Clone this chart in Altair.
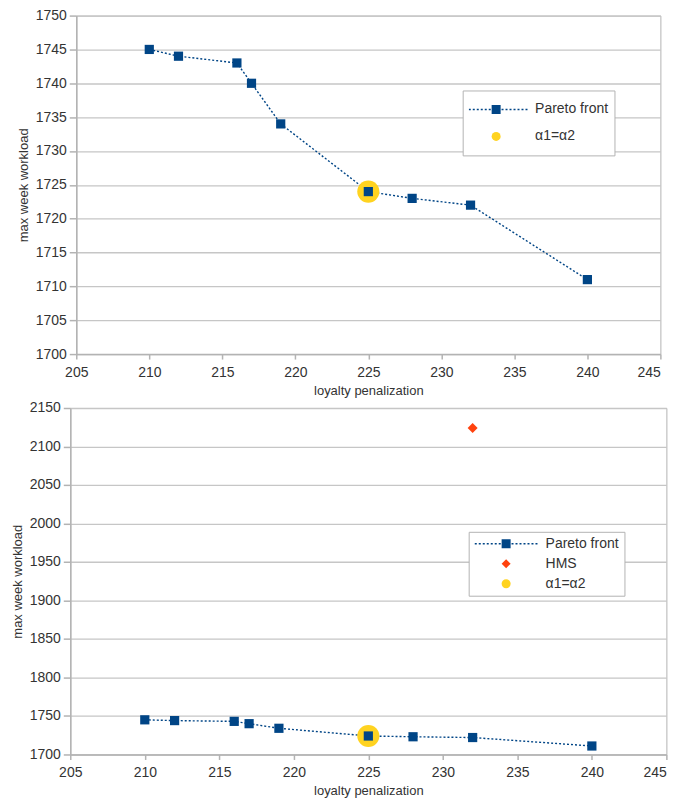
import altair as alt
import pandas as pd

# ---- data ----
pareto_x = [210, 212, 216, 217, 219, 225, 228, 232, 240]
pareto_y = [1745, 1744, 1743, 1740, 1734, 1724, 1723, 1722, 1711]
hms_x = [232]
hms_y = [2124]
alpha_x = [225]
alpha_y = [1724]

x_ticks = [205, 210, 215, 220, 225, 230, 235, 240, 245]
y_ticks_top = [1700, 1705, 1710, 1715, 1720, 1725, 1730, 1735, 1740, 1745, 1750]
y_ticks_bottom = [1700, 1750, 1800, 1850, 1900, 1950, 2000, 2050, 2100, 2150]

BLUE = "#004586"
ORANGE = "#FF420E"
YELLOW = "#FFD320"
GRAY = "#b3b3b3"
TEXT = "#333333"
FONT = "Liberation Sans"

pareto_df = pd.DataFrame({"x": pareto_x, "y": pareto_y, "series": "Pareto front"})
hms_df = pd.DataFrame({"x": hms_x, "y": hms_y, "series": "HMS"})
alpha_df = pd.DataFrame({"x": alpha_x, "y": alpha_y, "series": "α1=α2"})

# legend symbol for the Pareto front: dotted line with a square
parts = ["M-1,-1H1V1H-1Z"]
u = 4.5
half = 32.5 / u
d = 2.0 / u
t = 0.17
x0 = 1.0 + 0.2
while x0 + d <= half + 1e-6:
    parts.append(f"M{x0:.3f},{-t}H{x0 + d:.3f}V{t}H{x0:.3f}Z")
    parts.append(f"M{-x0 - d:.3f},{-t}H{-x0:.3f}V{t}H{-x0 - d:.3f}Z")
    x0 += 2 * d
PARETO_PATH = "".join(parts)

shape_expr = (
    f"datum.value === 'Pareto front' ? '{PARETO_PATH}' : "
    "(datum.value === 'HMS' ? 'diamond' : 'circle')"
)
size_expr = "81"


def panel(width, height, ydom, yticks, domain, colors, lx, ly, rowpad, legpad,
          symoff, labeloff, show_hms, clip=None):
    xenc = alt.X("x:Q", scale=alt.Scale(domain=[205, 245], nice=False, zero=False),
                 axis=alt.Axis(values=x_ticks, title="loyalty penalization",
                               grid=False, tickSize=5, labelPadding=6,
                               labelAlign={"condition": {"test": "datum.value === 245",
                                                         "value": "right"},
                                           "value": "center"}))
    yenc = alt.Y("y:Q", scale=alt.Scale(domain=ydom, nice=False, zero=False),
                 axis=alt.Axis(values=yticks, title="max week workload", tickSize=7,
                               format="d"))

    line = alt.Chart(pareto_df).mark_line(
        color=BLUE, strokeDash=[2, 2], strokeWidth=1.4
    ).encode(x=xenc, y=yenc)

    alpha = alt.Chart(alpha_df).mark_circle(
        size=490, color=YELLOW, opacity=1
    ).encode(x=xenc, y=yenc)

    legend_kw = dict(
        title=None, orient="none", legendX=lx, legendY=ly,
        labelFontSize=14, labelColor=TEXT, labelFont=FONT,
        rowPadding=rowpad, padding=legpad,
        strokeColor=GRAY, fillColor="white",
        symbolStrokeWidth=0, symbolOffset=symoff, labelOffset=labeloff,
        symbolType={"expr": shape_expr},
        symbolSize={"expr": size_expr},
        symbolOpacity=1,
    )
    if clip is not None:
        legend_kw["clipHeight"] = clip

    squares = alt.Chart(pareto_df).mark_square(size=85, opacity=1).encode(
        x=xenc, y=yenc,
        color=alt.Color(
            "series:N",
            scale=alt.Scale(domain=domain, range=colors),
            legend=alt.Legend(**legend_kw),
        ),
    )

    layers = [line, alpha, squares]
    if show_hms:
        hms = alt.Chart(hms_df).mark_point(
            shape="diamond", size=100, filled=True, color=ORANGE, opacity=1
        ).encode(x=xenc, y=yenc)
        layers.append(hms)

    return alt.layer(*layers).properties(width=width, height=height)


top = panel(585, 339, [1700, 1750], y_ticks_top,
            ["Pareto front", "α1=α2"], [BLUE, YELLOW],
            387, 75, 1, 6, 20.5, 32, False, clip=26)
bottom = panel(597, 347, [1700, 2150], y_ticks_bottom,
               ["Pareto front", "HMS", "α1=α2"], [BLUE, ORANGE, YELLOW],
               399, 124, 6, 5, 25.5, 32.5, True)

chart = alt.vconcat(top, bottom, spacing=2, center=True).resolve_scale(
    color="independent"
).resolve_legend(color="independent").properties(
    padding={"top": -1, "left": 2, "right": 0, "bottom": 0}
).configure_view(
    stroke=GRAY, strokeWidth=1
).configure_axis(
    domainColor=GRAY, domainWidth=1.5, tickColor=GRAY, tickWidth=1.5,
    gridColor="#c6c6c6", gridWidth=1.3,
    labelFont=FONT, labelFontSize=14, labelColor=TEXT, labelPadding=3,
    titleFont=FONT, titleFontSize=13, titleFontWeight="normal", titleColor=TEXT,
    titlePadding=5,
)

chart.save("out.html", embed_options={"renderer": "svg", "actions": False})
